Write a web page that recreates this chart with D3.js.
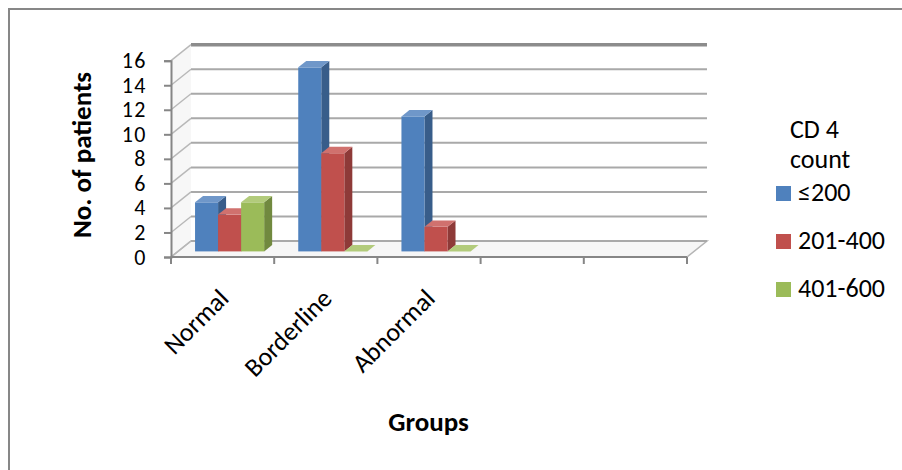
<!DOCTYPE html>
<html><head><meta charset="utf-8">
<script src="https://cdn.jsdelivr.net/npm/d3@7"></script>
<style>
html,body{margin:0;padding:0;background:#fff;}
svg{display:block;}
text{font-family:Carlito,Lato,"Liberation Sans",sans-serif;fill:#000;}
</style></head>
<body>
<svg id="chart" width="902" height="470"></svg>
<script>
// ---- data ----
const categories = ["Normal", "Borderline", "Abnormal"];
const slotCount = 5;                       // category slots on the x axis
const seriesNames = ["≤200", "201-400", "401-600"];
const lowCount  = [4, 15, 11];             // ≤200
const midCount  = [3, 8, 2];               // 201-400
const highCount = [4, 0, 0];               // 401-600
const yTicks = [0, 2, 4, 6, 8, 10, 12, 14, 16];
const legendTitle = ["CD 4", "count"];
const xTitle = "Groups";
const yTitle = "No. of patients";

const seriesValues = [lowCount, midCount, highCount];
const colors = [
  {front:"#4F81BD", side:"#385D8A", top:"#6F97C9"},
  {front:"#C0504D", side:"#8E3A38", top:"#D0716E"},
  {front:"#9BBB59", side:"#71893F", top:"#B2CB7B"}
];

const svg = d3.select("#chart");

// outer border
svg.append("rect").attr("x", 9).attr("y", 9).attr("width", 920).attr("height", 480)
  .attr("fill", "none").attr("stroke", "#878787").attr("stroke-width", 2);

// ---- scales ----
const pLeft = 171, pRight = 687, pBottom = 257, pTop = 60.7;
const depth = {dx: 20, dy: -16};
const y = d3.scaleLinear().domain([0, 16]).range([pBottom, pTop]);
const x = d3.scaleBand().domain(d3.range(slotCount)).range([pLeft, pRight]);
const inner = d3.scaleBand().domain(d3.range(seriesNames.length))
  .range([0, x.bandwidth()]).paddingInner(0).paddingOuter(0.74);

// ---- walls ----
const g = svg.append("g");
g.append("path")
  .attr("d", `M${pLeft},${y(0)}L${pLeft+depth.dx},${y(0)+depth.dy}L${pLeft+depth.dx},${y(16)+depth.dy}L${pLeft},${y(16)}Z`)
  .attr("fill", "#f7f7f7");
g.append("path")
  .attr("d", `M${pLeft},${y(0)}L${pRight},${y(0)}L${pRight+depth.dx},${y(0)+depth.dy}L${pLeft+depth.dx},${y(0)+depth.dy}Z`)
  .attr("fill", "#f6f6f6").attr("stroke", "#b5b5b5").attr("stroke-width", 1.5);

yTicks.forEach(t => {
  const yy = y(t) + depth.dy;
  const isTop = t === yTicks[yTicks.length - 1];
  g.append("line").attr("x1", pLeft + depth.dx).attr("x2", pRight + depth.dx)
    .attr("y1", yy).attr("y2", yy)
    .attr("stroke", isTop ? "#8c8c8c" : "#a9a9a9")
    .attr("stroke-width", isTop ? 3.5 : 2);
  g.append("line").attr("x1", pLeft).attr("y1", y(t))
    .attr("x2", pLeft + depth.dx).attr("y2", yy)
    .attr("stroke", "#b8b8b8").attr("stroke-width", 1.5);
});

// ---- axes ----
const yAxis = d3.axisLeft(y).tickValues(yTicks).tickSize(7).tickPadding(17);
const ya = svg.append("g").attr("transform", `translate(${pLeft},0)`).call(yAxis);
ya.select(".domain").attr("stroke", "#868686").attr("stroke-width", 2);
ya.selectAll(".tick line").attr("stroke", "#868686").attr("stroke-width", 2);
ya.selectAll(".tick text").attr("font-size", 22).attr("letter-spacing", "1.5px")
  .attr("font-family", "Carlito,Lato,sans-serif").attr("fill", "#000");

const xBounds = d3.range(slotCount + 1).map(i => pLeft + i * x.step());
const xa = svg.append("g");
xa.append("line").attr("x1", pLeft).attr("x2", pRight).attr("y1", pBottom).attr("y2", pBottom)
  .attr("stroke", "#868686").attr("stroke-width", 2);
xa.selectAll("line.tk").data(xBounds).join("line").attr("class", "tk")
  .attr("x1", d => d).attr("x2", d => d).attr("y1", pBottom).attr("y2", pBottom + 7)
  .attr("stroke", "#868686").attr("stroke-width", 2);

svg.selectAll("text.cat").data(categories).join("text").attr("class", "cat")
  .attr("text-anchor", "end").attr("font-size", 26)
  .attr("transform", (d, i) => `translate(${x(i) + x.bandwidth()/2 + 7.5},${pBottom + 43}) rotate(-45)`)
  .text(d => d);

// ---- bars ----
const f0 = 0.35, f1 = 0.75;
const bars = svg.append("g");
categories.forEach((cat, ci) => {
  seriesValues.forEach((vals, si) => {
    const v = vals[ci];
    const c = colors[si];
    const x0 = x(ci) + inner(si) + depth.dx * f0;
    const w = inner.bandwidth();
    const yb = y(0) + depth.dy * f0;
    const yt = y(v) + depth.dy * f0;
    const ddx = depth.dx * (f1 - f0), ddy = depth.dy * (f1 - f0);
    bars.append("path")
      .attr("d", `M${x0+w},${yb}L${x0+w+ddx},${yb+ddy}L${x0+w+ddx},${yt+ddy}L${x0+w},${yt}Z`)
      .attr("fill", c.side);
    bars.append("rect").attr("x", x0).attr("y", yt).attr("width", w).attr("height", yb - yt)
      .attr("fill", c.front);
    bars.append("path")
      .attr("d", `M${x0},${yt}L${x0+ddx},${yt+ddy}L${x0+w+ddx},${yt+ddy}L${x0+w},${yt}Z`)
      .attr("fill", c.top);
  });
});

// ---- titles ----
svg.append("text").attr("font-weight", "bold").attr("font-size", 27)
  .attr("text-anchor", "middle")
  .attr("transform", `translate(91,155) rotate(-90)`).text(yTitle);
svg.append("text").attr("font-weight", "bold").attr("font-size", 27)
  .attr("text-anchor", "middle").attr("x", 428.5).attr("y", 431).text(xTitle);

// ---- legend ----
const lg = svg.append("g");
legendTitle.forEach((t, i) => {
  lg.append("text").attr("x", 790).attr("y", 138 + i * 30).attr("font-size", 26).text(t);
});
seriesNames.forEach((s, i) => {
  const yy = 201 + i * 48;
  lg.append("rect").attr("x", 776).attr("y", yy - 15).attr("width", 15).attr("height", 15)
    .attr("fill", colors[i].front);
  lg.append("text").attr("x", 798).attr("y", yy).attr("font-size", 26).text(s);
});
</script>
</body></html>
